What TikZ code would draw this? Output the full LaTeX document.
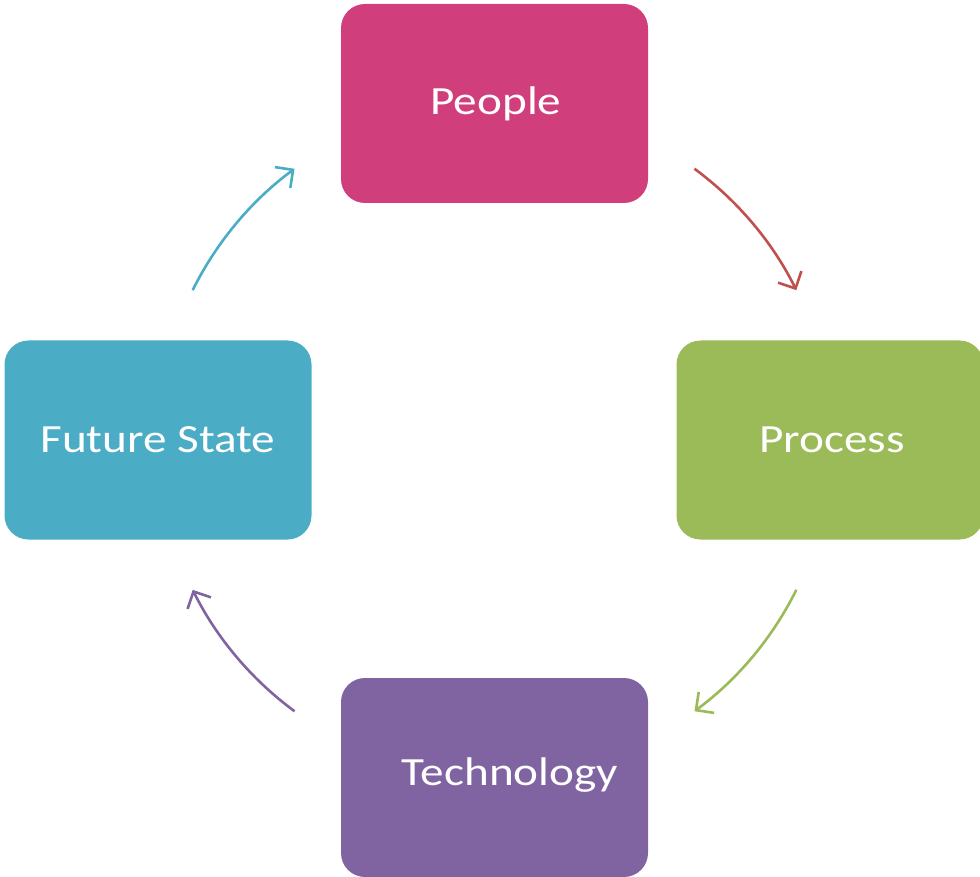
\documentclass[tikz,border=0pt]{standalone}
\usepackage{fontspec}
\setmainfont{Carlito}[FakeStretch=1.18]
\usetikzlibrary{arrows.meta,calc}
\definecolor{cPeople}{HTML}{D13E7C}
\definecolor{cProcess}{HTML}{9BBB59}
\definecolor{cFuture}{HTML}{4BACC6}
\definecolor{cTech}{HTML}{8064A2}
\definecolor{cRed}{HTML}{C0504D}
\begin{document}
\begin{tikzpicture}[x=1pt,y=1pt,
  box/.style={rounded corners=24pt, minimum width=307pt, minimum height=199pt, inner sep=0pt, draw=none},
  lbl/.style={text=white, font=\fontsize{40}{48}\selectfont, anchor=base, inner sep=0pt},
  cyc/.style={line width=2.6pt, -{Straight Barb[length=13pt,width=26pt,line width=2.6pt]}}
]
\useasboundingbox (0,0) rectangle (980,-877);
\node[box, fill=cPeople]  (people)  at (494.5,-103.5) {};
\node[box, fill=cProcess] (process) at (830,-440) {};
\node[box, fill=cFuture]  (future)  at (158,-440) {};
\node[box, fill=cTech]    (tech)    at (494.5,-777.5) {};
\node[lbl] (tpeople)  at (496,-114.5) {People};
\node[lbl] (tprocess) at (832,-452.5) {Process};
\node[lbl] (tfuture)  at (158,-452.5) {Future State};
\node[lbl] (ttech)    at (510,-785.5) {Technology};
\coordinate (c) at (494.5,-440);
\coordinate (a1) at ($(c)+(53.6:337)$);
\coordinate (a2) at ($(c)+(-26.4:337)$);
\coordinate (a3) at ($(c)+(-126.4:337)$);
\coordinate (a4) at ($(c)+(153.6:337)$);
\draw[cyc, cRed]     (a1) arc[start angle=53.6,   end angle=26.4,   radius=337];
\draw[cyc, cProcess] (a2) arc[start angle=-26.4,  end angle=-53.6,  radius=337];
\draw[cyc, cTech]    (a3) arc[start angle=-126.4, end angle=-153.6, radius=337];
\draw[cyc, cFuture]  (a4) arc[start angle=153.6,  end angle=126.4,  radius=337];
\end{tikzpicture}
\end{document}
